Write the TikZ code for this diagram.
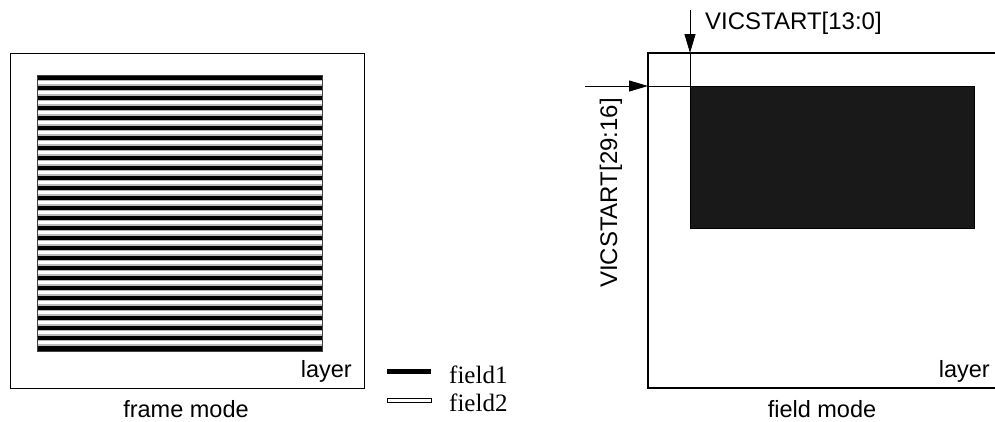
\documentclass[tikz,border=0pt]{standalone}
\usepackage{fontspec}
\setmainfont{Liberation Sans}
\newfontfamily\legendfont{Liberation Serif}
\usetikzlibrary{arrows.meta}
\begin{document}
\begin{tikzpicture}[x=1pt,y=-1pt,
  lbl/.style={inner sep=0pt,anchor=base,font=\fontsize{23.5}{28}\selectfont},
  leg/.style={inner sep=0pt,anchor=base west,font=\legendfont\fontsize{25}{30}\selectfont},
  frame/.style={draw=black,line width=1.4pt},
  ptr/.style={draw=black,line width=1pt,-{Triangle[length=19pt,width=11pt]}},
  plain/.style={draw=black,line width=1pt}]
\useasboundingbox (0,0) rectangle (995,421);
% ---------------- left: frame mode ----------------
\node[frame,minimum width=354pt,minimum height=335pt,inner sep=0pt,anchor=north west] (lbox) at (10,53) {};
\fill[black] (37,75) rectangle (322,351);
\foreach \k in {0,...,26}{
  \fill[gray!55] (37,{79.5+10*\k}) rectangle (322,{85.5+10*\k});
  \fill[white] (37,{81+10*\k}) rectangle (322,{84+10*\k});
}
\node[draw=black!75,line width=0.8pt,minimum width=285pt,minimum height=276pt,inner sep=0pt,anchor=north west] (stripes) at (37,75) {};
\node[lbl,anchor=base east] (llayer) at (352,377) {layer};
\node[lbl] (fmode) at (186,417) {frame mode};
% ---------------- legend ----------------
\node[fill=black,minimum width=44pt,minimum height=5pt,inner sep=0pt] (f1bar) at (409,371.5) {};
\node[draw=black,fill=white,line width=0.9pt,minimum width=44pt,minimum height=4pt,inner sep=0pt] (f2bar) at (409,400) {};
\node[leg] (f1) at (449,383) {field1};
\node[leg] (f2) at (449,411) {field2};
% ---------------- right: field mode ----------------
\coordinate (rtr) at (997,53);
\coordinate (rtl) at (648,53);
\coordinate (rbl) at (648,388);
\coordinate (rbr) at (997,388);
\draw[frame] (rtr) -- (rtl) -- (rbl) -- (rbr);
\node[draw=black,fill=black!90,line width=0.8pt,minimum width=284pt,minimum height=142pt,inner sep=0pt,anchor=north west] (dark) at (690,86) {};
\coordinate (vtop) at (690,10);
\coordinate (vtip) at (690,53);
\coordinate (hleft) at (585,86);
\coordinate (htip) at (648,86);
\draw[plain] (vtip) -- (dark.north west);
\draw[plain] (htip) -- (dark.north west);
\draw[ptr] (vtop) -- (vtip);
\draw[ptr] (hleft) -- (htip);
\node[lbl,anchor=base west,font=\fontsize{24}{28}\selectfont] (xstart) at (705,29) {VICSTART[13:0]};
\node[lbl,rotate=90,font=\fontsize{24}{28}\selectfont] (ystart) at (617,193) {VICSTART[29:16]};
\node[lbl,anchor=base east] (rlayer) at (990,377) {layer};
\node[lbl] (dmode) at (822,417) {field mode};
\end{tikzpicture}
\end{document}
